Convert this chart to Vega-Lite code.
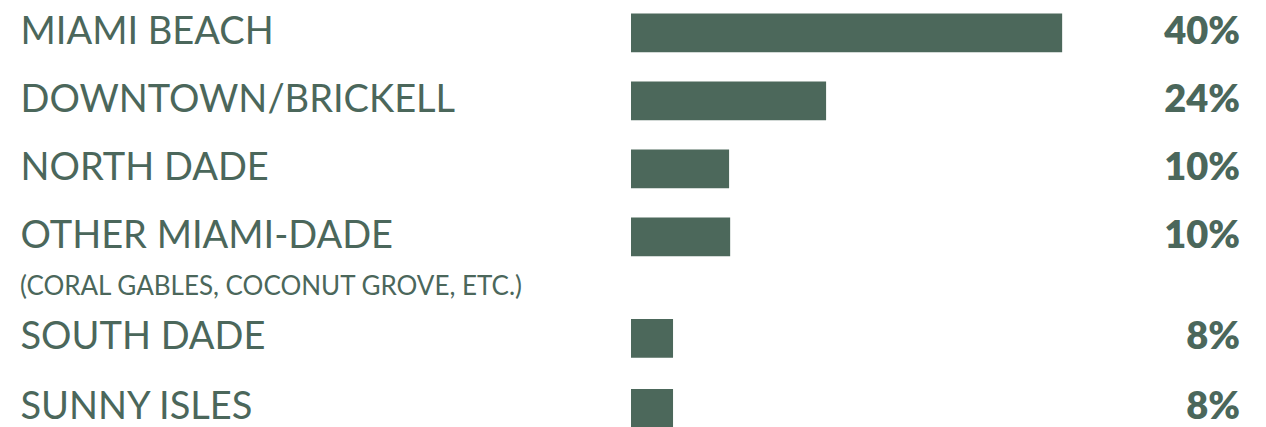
{
  "$schema": "https://vega.github.io/schema/vega-lite/v6.json",
  "background": "white",
  "padding": {"left": 20, "top": 0, "right": 26, "bottom": 0},
  "spacing": 16,
  "config": {
    "view": {"stroke": null},
    "font": "Lato"
  },
  "datasets": {
    "upper": [
      {"region": "MIAMI BEACH", "value": 40, "label": "40%"},
      {"region": "DOWNTOWN/BRICKELL", "value": 18.1, "label": "24%"},
      {"region": "NORTH DADE", "value": 9.1, "label": "10%"},
      {"region": "OTHER MIAMI-DADE", "value": 9.2, "label": "10%"}
    ],
    "lower": [
      {"region": "SOUTH DADE", "value": 3.9, "label": "8%"},
      {"region": "SUNNY ISLES", "value": 3.9, "label": "8%"}
    ]
  },
  "vconcat": [
    {
      "data": {"name": "upper"},
      "width": 609,
      "height": {"step": 68},
      "encoding": {
        "y": {
          "field": "region", "type": "nominal", "sort": null,
          "scale": {"paddingInner": 0.43, "paddingOuter": 0.1, "align": 1},
          "axis": {
            "title": null, "orient": "left", "domain": false, "ticks": false, "tickSize": 0,
            "labelAlign": "left", "labelPadding": 611, "labelLimit": 600,
            "labelFont": "Lato", "labelFontWeight": 400, "labelFontSize": 38, "labelColor": "#4b675b"
          }
        }
      },
      "layer": [
        {
          "mark": {"type": "bar", "color": "#4c685b"},
          "encoding": {
            "x": {"field": "value", "type": "quantitative", "scale": {"domain": [0, 56.5], "nice": false}, "axis": null}
          }
        },
        {
          "mark": {"type": "text", "x": "width", "align": "right", "baseline": "middle", "font": "Lato", "fontWeight": 800, "fontSize": 38, "color": "#4b675b"},
          "encoding": {"text": {"field": "label"}}
        }
      ]
    },
    {
      "data": {"name": "lower"},
      "width": 609,
      "height": {"step": 70},
      "title": {
        "text": "(CORAL GABLES, COCONUT GROVE, ETC.)",
        "anchor": "start", "frame": "bounds", "orient": "top",
        "font": "Lato", "fontWeight": 400, "fontSize": 26, "color": "#4b675b", "offset": 19
      },
      "encoding": {
        "y": {
          "field": "region", "type": "nominal", "sort": null,
          "scale": {"paddingInner": 0.447, "paddingOuter": 0},
          "axis": {
            "title": null, "orient": "left", "domain": false, "ticks": false, "tickSize": 0,
            "labelAlign": "left", "labelPadding": 611, "labelLimit": 600,
            "labelFont": "Lato", "labelFontWeight": 400, "labelFontSize": 38, "labelColor": "#4b675b"
          }
        }
      },
      "layer": [
        {
          "mark": {"type": "bar", "color": "#4c685b"},
          "encoding": {
            "x": {"field": "value", "type": "quantitative", "scale": {"domain": [0, 56.5], "nice": false}, "axis": null}
          }
        },
        {
          "mark": {"type": "text", "x": "width", "align": "right", "baseline": "middle", "font": "Lato", "fontWeight": 800, "fontSize": 38, "color": "#4b675b"},
          "encoding": {"text": {"field": "label"}}
        }
      ]
    }
  ]
}
